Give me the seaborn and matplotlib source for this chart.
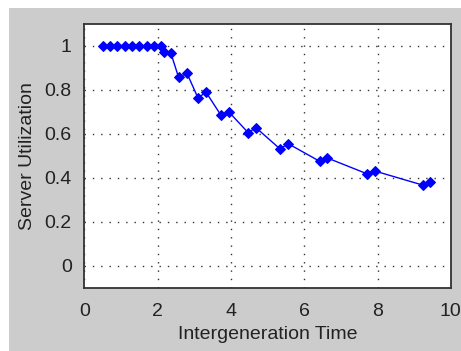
import numpy as np
import pandas as pd
import matplotlib
matplotlib.use("Agg")
import matplotlib.pyplot as plt
from matplotlib.patches import Rectangle
import seaborn as sns

# data
intergen_time = [0.5, 0.7, 0.9, 1.1, 1.3, 1.5, 1.7, 1.9, 2.1,
                 2.18, 2.36, 2.57, 2.80, 3.10, 3.32, 3.72, 3.95,
                 4.47, 4.68, 5.34, 5.56, 6.42, 6.63, 7.70, 7.92, 9.23, 9.44]
server_util = [1.0, 1.0, 1.0, 1.0, 1.0, 1.0, 1.0, 1.0, 1.0,
               0.97, 0.967, 0.857, 0.875, 0.763, 0.789, 0.686, 0.698,
               0.605, 0.628, 0.531, 0.555, 0.475, 0.49, 0.419, 0.431, 0.367, 0.381]
xticks = [0, 2, 4, 6, 8, 10]
yticks = [0, 0.2, 0.4, 0.6, 0.8, 1]
ytick_labels = ["0", "0.2", "0.4", "0.6", "0.8", "1"]

df = pd.DataFrame({"t": intergen_time, "u": server_util})

sns.set_style("white")
plt.rcParams['font.family'] = ['Liberation Sans', 'DejaVu Sans']

W, H = 461, 351
fig = plt.figure(figsize=(W / 100, H / 100 + 0.001), dpi=100, facecolor="#cccccc")
# white strips along top and left edges like the screenshot
fig.add_artist(Rectangle((0, 1 - 8 / H), 1, 8 / H, transform=fig.transFigure,
                         facecolor="white", edgecolor="none"))
fig.add_artist(Rectangle((0, 0), 9 / W, 1, transform=fig.transFigure,
                         facecolor="white", edgecolor="none"))

ax = fig.add_axes([0.183, 0.180, 0.795, 0.752])
sns.lineplot(data=df, x="t", y="u", ax=ax, color="#0000ff", marker="D",
             markersize=5, markeredgecolor="#0000ff", linewidth=1)

ax.set_xlim(0, 10)
ax.set_ylim(-0.1, 1.1)
ax.set_xticks(xticks)
ax.set_yticks(yticks)
ax.set_yticklabels(ytick_labels)
ax.grid(True, linestyle=(0, (1, 5)), color="#333333", linewidth=1)
for s in ax.spines.values():
    s.set_color("#333333")
    s.set_linewidth(1.3)
ax.tick_params(labelsize=14, length=0, colors="#222222")
ax.tick_params(axis="y", pad=9)
ax.tick_params(axis="x", pad=11)
ax.set_xlabel("Intergeneration Time", fontsize=14, color="#222222", labelpad=4)
ax.set_ylabel("Server Utilization", fontsize=14, color="#222222", labelpad=6)

fig.savefig("out.png", dpi=100, facecolor=fig.get_facecolor())
